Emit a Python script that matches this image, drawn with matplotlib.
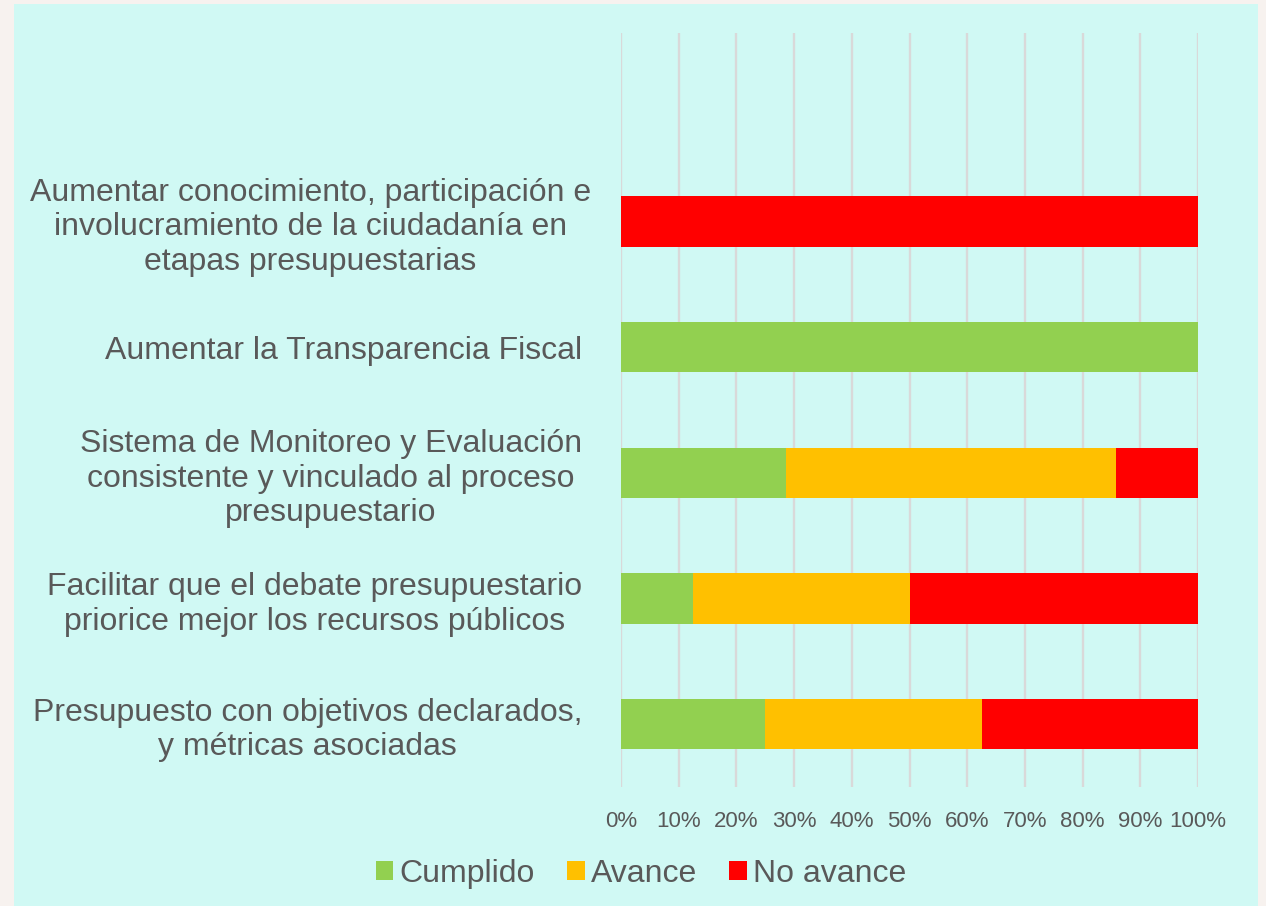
import matplotlib.pyplot as plt
from matplotlib.patches import Rectangle
from matplotlib.ticker import PercentFormatter
from matplotlib.transforms import ScaledTranslation

# categories from bottom to top, the top slot stays empty as in the original
categories = [
    "Presupuesto con objetivos declarados,\ny métricas asociadas",
    "Facilitar que el debate presupuestario\npriorice mejor los recursos públicos",
    "Sistema de Monitoreo y Evaluación\nconsistente y vinculado al proceso\npresupuestario",
    "Aumentar la Transparencia Fiscal",
    "Aumentar conocimiento, participación e\ninvolucramiento de la ciudadanía en\netapas presupuestarias",
    "",
]
cumplido = [0.25, 0.125, 2 / 7, 1.0, 0.0, 0.0]
avance = [0.375, 0.375, 4 / 7, 0.0, 0.0, 0.0]
no_avance = [0.375, 0.5, 1 / 7, 0.0, 1.0, 0.0]
series_names = ["Cumplido", "Avance", "No avance"]

plt.rcParams['font.family'] = ['Liberation Sans', 'DejaVu Sans']
text_col = '#595959'

fig = plt.figure(figsize=(12.66, 9.06), dpi=100)
fig.patch.set_facecolor('#F7F2EF')
# inner panel, behind the axes
fig.patches.append(Rectangle((14 / 1266, 0), (1258 - 14) / 1266, 1 - 4 / 906,
                             transform=fig.transFigure, facecolor='#D0F9F4',
                             edgecolor='none', zorder=-5))

ax = fig.add_axes([621 / 1266, 1 - 787 / 906, (1198 - 621) / 1266, (787 - 33) / 906])
ax.set_facecolor('none')

y = list(range(len(categories)))
h = 0.4
ax.barh(y, cumplido, height=h, color='#92D050', label=series_names[0], zorder=3)
left2 = cumplido
ax.barh(y, avance, height=h, left=left2, color='#FFC000', label=series_names[1], zorder=3)
left3 = [a + b for a, b in zip(cumplido, avance)]
ax.barh(y, no_avance, height=h, left=left3, color='#FF0000', label=series_names[2], zorder=3)

ax.set_xlim(0, 1)
ax.set_ylim(-0.5, len(categories) - 0.5)
ax.set_xticks([i / 10 for i in range(11)])
ax.xaxis.set_major_formatter(PercentFormatter(1.0, decimals=0))
ax.grid(axis='x', color='#D9D9D9', linewidth=1.7, zorder=0)
ax.set_axisbelow(True)
for s in ax.spines.values():
    s.set_visible(False)

ax.set_yticks(y)
ax.set_yticklabels(categories, fontsize=23, color=text_col, multialignment='center',
                   linespacing=1.2)
ax.tick_params(axis='y', length=0, pad=28)
ax.tick_params(axis='x', length=0, pad=17, labelsize=16, labelcolor=text_col)

# the top label sits a bit further right in the original
top_lbl = ax.get_yticklabels()[4]
top_lbl.set_transform(top_lbl.get_transform() + ScaledTranslation(9 / 100, 0, fig.dpi_scale_trans))

leg = fig.legend(loc='center', bbox_to_anchor=(641 / 1266, 1 - 874 / 906), ncol=3,
                 frameon=False, fontsize=23, handlelength=0.55, handleheight=0.55,
                 handletextpad=0.2, columnspacing=1.0, labelcolor=text_col)

fig.savefig('out.png', dpi=100, facecolor=fig.get_facecolor())
